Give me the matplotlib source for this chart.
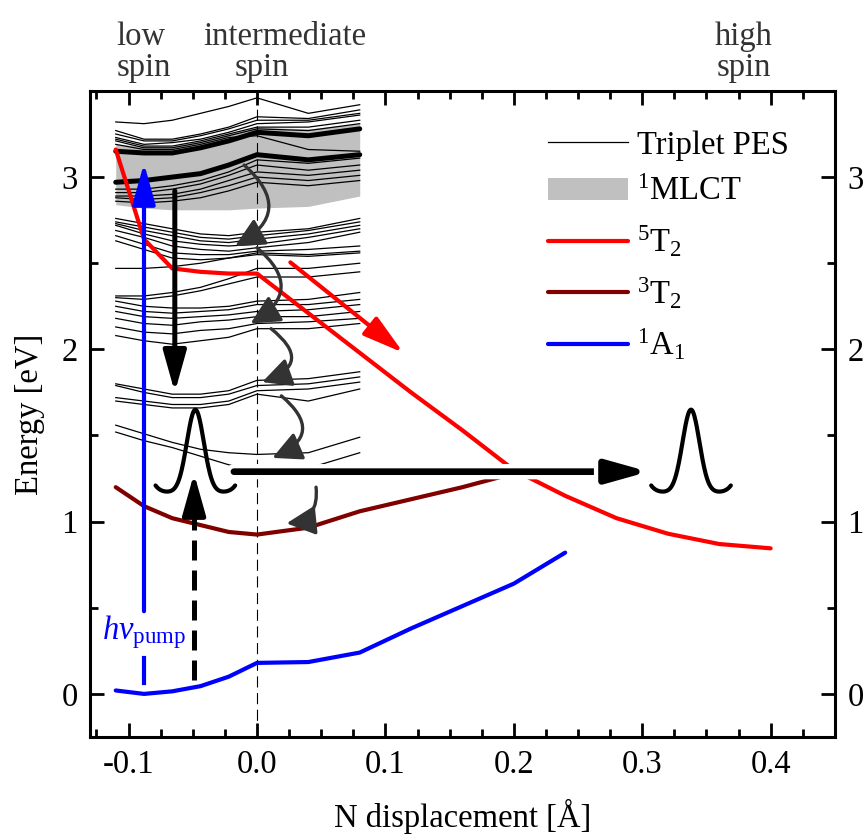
import matplotlib
matplotlib.use("Agg")
import matplotlib.pyplot as plt
import matplotlib.patheffects as pe
from matplotlib.ticker import MultipleLocator, FormatStrFormatter
import numpy as np

plt.rcParams['font.family'] = ['Liberation Serif', 'DejaVu Serif']
plt.rcParams['mathtext.fontset'] = 'custom'
plt.rcParams['mathtext.rm'] = 'Liberation Serif'
plt.rcParams['mathtext.it'] = 'Liberation Serif:italic'
plt.rcParams['axes.unicode_minus'] = False
FS = 23.5
plt.rcParams['font.size'] = FS

# N displacement grid (Angstrom)
x_state = [-0.11, -0.088, -0.066, -0.044, -0.022, 0.0, 0.04, 0.08,
           0.12, 0.16, 0.20, 0.24, 0.28, 0.32, 0.36, 0.40]

# state energies (eV)
e_1a1 = [0.02, 0.0, 0.015, 0.045, 0.10, 0.18, 0.185, 0.24, 0.38, 0.51, 0.64, 0.82]
e_3t2 = [1.20, 1.09, 1.02, 0.98, 0.94, 0.925, 0.965, 1.06, 1.13, 1.20, 1.28]
e_5t2 = [3.16, 2.64, 2.47, 2.45, 2.44, 2.44, 2.21, 1.98, 1.75, 1.53, 1.30,
         1.15, 1.02, 0.93, 0.87, 0.845]

# triplet PES from the calculation
x_pes = [-0.11, -0.088, -0.066, -0.044, -0.022, 0.0, 0.04, 0.08]
triplets = [
    [3.32, 3.31, 3.33, 3.37, 3.41, 3.46, 3.37, 3.42],
    [3.27, 3.22, 3.22, 3.25, 3.29, 3.35, 3.34, 3.39],
    [3.25, 3.21, 3.21, 3.24, 3.28, 3.33, 3.33, 3.37],
    [3.23, 3.19, 3.20, 3.22, 3.26, 3.31, 3.32, 3.36],
    [3.22, 3.18, 3.18, 3.21, 3.25, 3.29, 3.29, 3.33],
    [3.21, 3.17, 3.17, 3.20, 3.24, 3.28, 3.27, 3.31],
    [3.19, 3.16, 3.16, 3.19, 3.23, 3.24, 3.16, 3.15],
    [2.93, 2.93, 2.95, 2.98, 3.03, 3.10, 3.08, 3.11],
    [2.91, 2.91, 2.93, 2.96, 3.01, 3.07, 3.04, 3.07],
    [2.89, 2.89, 2.90, 2.93, 2.98, 3.03, 3.01, 3.04],
    [2.88, 2.87, 2.88, 2.91, 2.95, 3.00, 2.98, 3.01],
    [2.86, 2.85, 2.86, 2.88, 2.92, 2.97, 2.95, 2.98],
    [2.76, 2.73, 2.70, 2.67, 2.66, 2.68, 2.70, 2.76],
    [2.74, 2.71, 2.68, 2.65, 2.64, 2.66, 2.69, 2.74],
    [2.73, 2.69, 2.66, 2.63, 2.62, 2.64, 2.67, 2.72],
    [2.72, 2.67, 2.63, 2.61, 2.60, 2.61, 2.65, 2.70],
    [2.69, 2.65, 2.60, 2.58, 2.57, 2.59, 2.62, 2.68],
    [2.66, 2.61, 2.56, 2.55, 2.55, 2.57, 2.58, 2.60],
    [2.63, 2.58, 2.53, 2.52, 2.53, 2.56, 2.55, 2.57],
    [2.47, 2.47, 2.48, 2.50, 2.53, 2.55, 2.54, 2.56],
    [2.31, 2.31, 2.33, 2.36, 2.41, 2.47, 2.47, 2.50],
    [2.30, 2.29, 2.31, 2.34, 2.38, 2.42, 2.42, 2.45],
    [2.28, 2.25, 2.24, 2.24, 2.25, 2.28, 2.29, 2.33],
    [2.25, 2.22, 2.21, 2.22, 2.23, 2.26, 2.26, 2.29],
    [2.22, 2.19, 2.18, 2.19, 2.20, 2.22, 2.23, 2.26],
    [2.18, 2.15, 2.14, 2.16, 2.17, 2.19, 2.19, 2.22],
    [2.13, 2.10, 2.09, 2.11, 2.12, 2.15, 2.16, 2.18],
    [2.08, 2.05, 2.03, 2.05, 2.07, 2.12, 2.12, 2.15],
    [1.80, 1.77, 1.74, 1.74, 1.76, 1.82, 1.83, 1.87],
    [1.79, 1.75, 1.72, 1.72, 1.74, 1.79, 1.80, 1.84],
    [1.72, 1.70, 1.68, 1.68, 1.70, 1.76, 1.77, 1.81],
    [1.70, 1.68, 1.66, 1.66, 1.68, 1.74, 1.70, 1.77],
    [1.56, 1.51, 1.46, 1.42, 1.40, 1.39, 1.40, 1.49],
    [1.52, 1.47, 1.43, 1.38, 1.33, 1.30, 1.31, 1.40],
]
# the two bright 1MLCT states and the band around them
mlct_upper = [3.15, 3.14, 3.14, 3.17, 3.21, 3.26, 3.24, 3.28]
mlct_lower = [2.97, 2.98, 3.00, 3.02, 3.07, 3.13, 3.10, 3.13]
band_top = [3.19, 3.18, 3.18, 3.21, 3.25, 3.29, 3.28, 3.31]
band_bottom = [2.84, 2.82, 2.81, 2.81, 2.81, 2.82, 2.83, 2.89]

fig = plt.figure(figsize=(8.66, 8.39), dpi=100)
ax = fig.add_axes([0.104, 0.1216, 0.860, 0.770])

ax.fill_between(x_pes, band_bottom, band_top, color='#c0c0c0', lw=0,
                zorder=1, label='$^{1}$MLCT')
for i, e in enumerate(triplets):
    ax.plot(x_pes, e, color='black', lw=0.9, zorder=2,
            label='Triplet PES' if i == 0 else None)
ax.plot(x_pes, mlct_upper, color='black', lw=3.6, solid_capstyle='round', zorder=2)
ax.plot(x_pes, mlct_lower, color='black', lw=3.6, solid_capstyle='round', zorder=2)

ax.axvline(0.0, color='black', lw=0.8, ls=(0, (10, 5)), zorder=2)

ax.plot(x_state, e_5t2, color='#ff0000', lw=3, solid_capstyle='round',
        zorder=3, label='$^{5}$T$_{2}$')
ax.plot(x_state[:len(e_3t2)], e_3t2, color='#800000', lw=3,
        solid_capstyle='round', zorder=3, label='$^{3}$T$_{2}$')
ax.plot(x_state[:len(e_1a1)], e_1a1, color='#0000ff', lw=3,
        solid_capstyle='round', zorder=3, label='$^{1}$A$_{1}$')

head = '-|>,head_length=1.0,head_width=0.28'

# pump excitation
ax.plot([-0.088, -0.088], [0.066, 0.21], color='#0000ff', lw=3, zorder=4)
ax.annotate('', xy=(-0.088, 3.08), xytext=(-0.088, 0.48), zorder=4,
            arrowprops=dict(arrowstyle=head, color='#0000ff', lw=3,
                            mutation_scale=25, shrinkA=0, shrinkB=0))
ax.text(-0.088, 0.36, r'$hv_{\mathrm{pump}}$', color='#0000ff',
        ha='center', va='center', fontsize=FS, zorder=4)

# relaxation from the MLCT band
ax.annotate('', xy=(-0.064, 1.75), xytext=(-0.064, 2.92), zorder=4,
            arrowprops=dict(arrowstyle=head, color='black', lw=3.6,
                            mutation_scale=25, shrinkA=0, shrinkB=0))

# probe transition (dashed)
ax.plot([-0.049, -0.049], [0.08, 1.12], color='black', lw=3.6,
        ls=(0, (4, 2)), zorder=4)
ax.annotate('', xy=(-0.049, 1.28), xytext=(-0.049, 1.05), zorder=4,
            arrowprops=dict(arrowstyle=head, color='black', lw=3.6,
                            mutation_scale=25, shrinkA=0, shrinkB=0))

# vibrational wavepackets
for xc in (-0.048, 0.338):
    xs = np.linspace(xc - 0.031, xc + 0.031, 200)
    u = (xs - xc) / 0.031
    ys = 1.17 + 0.48 * np.exp(-(xs - xc) ** 2 / (2 * 0.0066 ** 2)) + 0.04 * u ** 8
    ax.plot(xs, ys, color='black', lw=3, solid_capstyle='round', zorder=4)

# transfer to the quintet
ax.annotate('', xy=(0.305, 1.29), xytext=(-0.018, 1.29), zorder=5,
            arrowprops=dict(arrowstyle=head, color='black', lw=4.8,
                            mutation_scale=25, shrinkA=0, shrinkB=0,
                            path_effects=[pe.withStroke(linewidth=11,
                                                        foreground='white')]))

# quintet downhill arrow
ax.annotate('', xy=(0.114, 1.98), xytext=(0.026, 2.505), zorder=4,
            arrowprops=dict(arrowstyle=head, color='#ff0000', lw=3,
                            mutation_scale=25, shrinkA=0, shrinkB=0))

# triplet cascade
cascade = [
    ((-0.010, 3.07), (-0.017, 2.60), -0.7),
    ((0.0, 2.59), (-0.005, 2.15), -0.7),
    ((0.011, 2.12), (0.004, 1.81), -0.9),
    ((0.019, 1.73), (0.012, 1.37), -0.8),
    ((0.046, 1.20), (0.023, 0.99), -0.5),
]
for start, end, rad in cascade:
    ax.annotate('', xy=end, xytext=start, zorder=4,
                arrowprops=dict(arrowstyle='-|>,head_length=0.8,head_width=0.4',
                                color='#333333', lw=2.4, mutation_scale=22,
                                shrinkA=0, shrinkB=0,
                                connectionstyle='arc3,rad=%s' % rad))

ax.set_xlim(-0.13, 0.45)
ax.set_ylim(-0.25, 3.5)
ax.xaxis.set_major_locator(MultipleLocator(0.1))
ax.xaxis.set_minor_locator(MultipleLocator(0.025))
ax.xaxis.set_major_formatter(FormatStrFormatter('%.1f'))
ax.yaxis.set_major_locator(MultipleLocator(1))
ax.yaxis.set_minor_locator(MultipleLocator(0.5))
ax.tick_params(which='both', direction='in', top=True, right=True,
               labelright=True, width=2, labelsize=FS, pad=9)
ax.tick_params(which='major', length=10)
ax.tick_params(which='minor', length=6)
for s in ax.spines.values():
    s.set_linewidth(2.2)

ax.set_xlabel('N displacement [Å]', fontsize=FS, labelpad=14)
ax.set_ylabel('Energy [eV]', fontsize=FS, labelpad=12)

handles, labels = ax.get_legend_handles_labels()
order = ['Triplet PES', '$^{1}$MLCT', '$^{5}$T$_{2}$', '$^{3}$T$_{2}$', '$^{1}$A$_{1}$']
hl = dict(zip(labels, handles))
ax.legend([hl[k] for k in order], order, loc='upper left',
          bbox_to_anchor=(0.575, 0.985), frameon=False, fontsize=FS,
          handlelength=2.45, handletextpad=0.3, labelspacing=0.5)

# spin-state labels above the frame
top = '#333333'
fig.text(141 / 866, 1 - 45 / 839, 'low', ha='center', va='baseline', color=top, fontsize=FS)
fig.text(144 / 866, 1 - 76 / 839, 'spin', ha='center', va='baseline', color=top, fontsize=FS)
fig.text(285 / 866, 1 - 45 / 839, 'intermediate', ha='center', va='baseline', color=top, fontsize=FS)
fig.text(262 / 866, 1 - 76 / 839, 'spin', ha='center', va='baseline', color=top, fontsize=FS)
fig.text(744 / 866, 1 - 45 / 839, 'high', ha='center', va='baseline', color=top, fontsize=FS)
fig.text(744 / 866, 1 - 76 / 839, 'spin', ha='center', va='baseline', color=top, fontsize=FS)

fig.savefig('out.png', dpi=100)
